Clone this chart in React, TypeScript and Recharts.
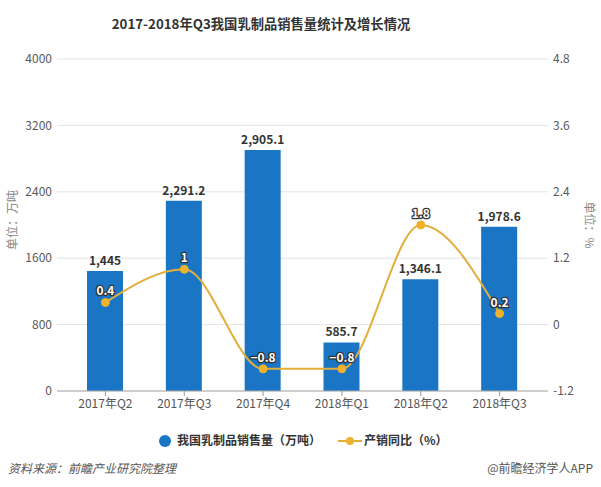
import React from 'react';
import { ComposedChart, Bar, Line, XAxis, YAxis, CartesianGrid, LabelList } from 'recharts';

const categories = ['2017年Q2', '2017年Q3', '2017年Q4', '2018年Q1', '2018年Q2', '2018年Q3'];
const salesVolume = [1445, 2291.2, 2905.1, 585.7, 1346.1, 1978.6];
const yoyGrowth = [0.4, 1, -0.8, -0.8, 1.8, 0.2];
const leftTicks = [0, 800, 1600, 2400, 3200, 4000];
const rightTicks = [-1.2, 0, 1.2, 2.4, 3.6, 4.8];

const data = categories.map((c, i) => ({ category: c, sales: salesVolume[i], yoy: yoyGrowth[i] }));

const BAR_COLOR = '#1a76c5';
const LINE_COLOR = '#e2ae3c';
const DOT_COLOR = '#f0b12c';
const FONT = '"Noto Sans CJK SC", "Noto Sans", sans-serif';

const fmtBar = (v: any) => Number(v).toLocaleString('en-US', { maximumFractionDigits: 1 });
const fmtLine = (v: number) => (v < 0 ? '\u2212' + Math.abs(v) : String(v));

const LineLabel = (props: any) => {
  const { x, y, value } = props;
  return (
    <text
      x={x}
      y={y - 7}
      textAnchor="middle"
      fontSize={12}
      fontWeight="bold"
      fontFamily={FONT}
      fill="#ffffff"
      stroke="#333333"
      strokeWidth={2.5}
      paintOrder="stroke"
      strokeLinejoin="round"
    >
      {fmtLine(value)}
    </text>
  );
};

export default function App() {
  return (
    <div style={{ position: 'absolute', left: 0, top: 0, width: 601, height: 487, background: '#fff', fontFamily: FONT }}>
      <div
        style={{
          position: 'absolute',
          left: 0,
          width: 522,
          top: 14,
          textAlign: 'center',
          fontSize: 13.3,
          fontWeight: 'bold',
          color: '#333',
          lineHeight: '20px',
        }}
      >
        2017-2018年Q3我国乳制品销售量统计及增长情况
      </div>
      <ComposedChart width={601} height={487} data={data} margin={{ top: 59, right: 0, bottom: 66, left: 0 }}>
        <CartesianGrid vertical={false} stroke="#e3e3e3" yAxisId="left" />
        <XAxis
          dataKey="category"
          height={30}
          padding={{ left: 9, right: 9 }}
          tickSize={5}
          tickMargin={3}
          tickLine={{ stroke: '#999' }}
          axisLine={{ stroke: '#aaa' }}
          tick={{ fontSize: 12, fill: '#555', fontFamily: FONT }}
          interval={0}
        />
        <YAxis
          yAxisId="left"
          domain={[0, 4000]}
          ticks={leftTicks}
          width={57}
          axisLine={false}
          tickLine={false}
          tickSize={3}
          tickMargin={2}
          tick={{ fontSize: 12, fill: '#595959', fontFamily: FONT }}
          interval={0}
        />
        <YAxis
          yAxisId="right"
          orientation="right"
          domain={[-1.2, 4.8]}
          ticks={rightTicks}
          width={53}
          axisLine={false}
          tickLine={false}
          tickSize={3}
          tickMargin={2}
          tick={{ fontSize: 12, fill: '#595959', fontFamily: FONT }}
          interval={0}
        />
        <Bar yAxisId="left" dataKey="sales" fill={BAR_COLOR} barSize={36} isAnimationActive={false}>
          <LabelList
            dataKey="sales"
            position="top"
            offset={6}
            formatter={fmtBar}
            style={{ fontSize: 12, fontWeight: 'bold', fill: '#333', fontFamily: FONT }}
          />
        </Bar>
        <Line
          yAxisId="right"
          type="monotone"
          dataKey="yoy"
          stroke={LINE_COLOR}
          strokeWidth={2}
          dot={{ r: 4, fill: DOT_COLOR, stroke: DOT_COLOR, strokeWidth: 1 }}
          activeDot={false}
          isAnimationActive={false}
        >
          <LabelList dataKey="yoy" content={LineLabel} />
        </Line>
        <text
          x={11}
          y={220}
          transform="rotate(-90 11 220)"
          textAnchor="middle"
          dominantBaseline="central"
          fontSize={12}
          fill="#888"
          fontFamily={FONT}
        >
          单位：万吨
        </text>
        <text
          x={590}
          y={225}
          transform="rotate(90 590 225)"
          textAnchor="middle"
          dominantBaseline="central"
          fontSize={12}
          fill="#888"
          fontFamily={FONT}
        >
          单位：%
        </text>
      </ComposedChart>
      <div
        style={{
          position: 'absolute',
          left: 0,
          top: 430,
          width: 601,
          height: 20,
          fontSize: 12,
          fontWeight: 'bold',
          color: '#333',
          lineHeight: '20px',
        }}
      >
        <svg width={12} height={12} style={{ position: 'absolute', left: 159, top: 5 }}>
          <circle cx={6} cy={6} r={6} fill={BAR_COLOR} />
        </svg>
        <span style={{ position: 'absolute', left: 177, top: 0 }}>我国乳制品销售量（万吨）</span>
        <svg width={24} height={12} style={{ position: 'absolute', left: 338, top: 5 }}>
          <line x1={0} y1={6} x2={24} y2={6} stroke={LINE_COLOR} strokeWidth={2} />
          <circle cx={12} cy={6} r={4} fill={DOT_COLOR} />
        </svg>
        <span style={{ position: 'absolute', left: 364, top: 0 }}>产销同比（%）</span>
      </div>
      <div
        style={{
          position: 'absolute',
          left: 8,
          top: 459,
          fontSize: 12,
          fontStyle: 'italic',
          color: '#555',
          lineHeight: '18px',
        }}
      >
        资料来源：前瞻产业研究院整理
      </div>
      <div
        style={{
          position: 'absolute',
          right: 8,
          top: 459,
          fontSize: 12,
          color: '#555',
          lineHeight: '18px',
        }}
      >
        @前瞻经济学人APP
      </div>
    </div>
  );
}
